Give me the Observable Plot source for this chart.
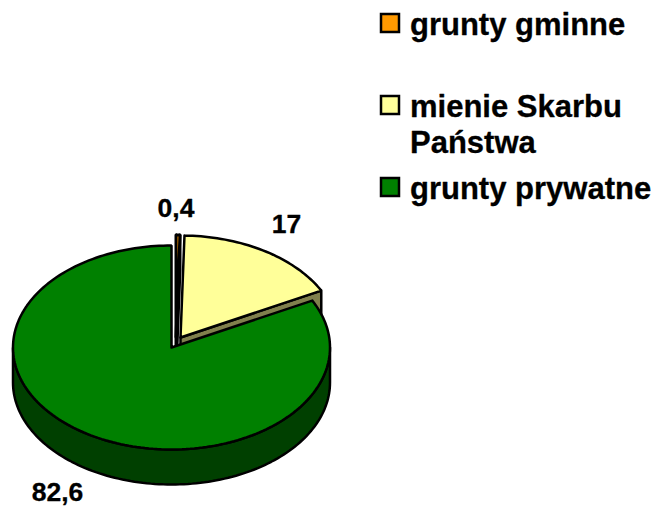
<!DOCTYPE html>
<html><head><meta charset="utf-8">
<script src="https://cdn.jsdelivr.net/npm/d3@7"></script>
<script src="https://cdn.jsdelivr.net/npm/@observablehq/plot@0.6"></script>
<style>html,body{margin:0;padding:0;background:#fff}svg{display:block}</style>
</head><body><div id="chart"></div>
<script>
const categories = ["grunty gminne", "mienie Skarbu Państwa", "grunty prywatne"];
const values = [0.4, 17, 82.6];
const valueLabels = ["0,4", "17", "82,6"];
const topColors = ["#FF9900", "#FFFF99", "#008000"];
const wallColors = ["#804C00", "#80804D", "#004000"];

const W = 656, H = 506;
const cx = 171, cy = 347, rx = 158.5, ry = 102, depth = 35;
const offsets = [[4.5, -10.5], [9, -10], [0, 0]];
const total = d3.sum(values);
const TAU = 2 * Math.PI;
let acc = 0;
const slices = values.map((v, i) => {
  const a0 = acc / total * TAU; acc += v; const a1 = acc / total * TAU;
  return {i, a0, a1, ox: cx + offsets[i][0], oy: cy + offsets[i][1]};
});
const rim = (s, a, d = 0) => ({x: s.ox + rx * Math.sin(a), y: s.oy - ry * Math.cos(a) + d});
const arc = (s, a0, a1, d = 0) => {
  const n = Math.max(2, Math.ceil(Math.abs(a1 - a0) / TAU * 240));
  return d3.range(n + 1).map(k => rim(s, a0 + (a1 - a0) * k / n, d));
};
const poly = (pts, fill, strokeWidth = 2.5) => Plot.line([...pts, pts[0], pts[1]], {
  x: "x", y: "y", fill, stroke: "#000", strokeWidth, strokeLinejoin: "miter", curve: "linear"
});
const topFace = s => [{x: s.ox, y: s.oy}, ...arc(s, s.a0, s.a1)];
const cutWall = s => {
  const e = rim(s, s.a1), e2 = rim(s, s.a1, depth);
  return [{x: s.ox, y: s.oy}, e, e2, {x: s.ox, y: s.oy + depth}];
};
const outerWall = (s, a0, a1) => [...arc(s, a0, a1), ...arc(s, a1, a0, depth)];

const [sOrange, sYellow, sGreen] = slices;
const legendX = 381, legendSize = 18, legendTextX = 410;
const legendRows = [
  {y: 14, lines: ["grunty gminne"]},
  {y: 96, lines: ["mienie Skarbu", "Państwa"]},
  {y: 178, lines: ["grunty prywatne"]}
];
const font = {fontFamily: "'Liberation Sans', Arial, sans-serif", fontWeight: "bold", fill: "#000", stroke: "#000", strokeWidth: 0.3};
const labelPos = [[175.5, 208], [286, 224], [57, 492.5]];

const plot = Plot.plot({
  width: W, height: H, margin: 0,
  x: {domain: [0, W], range: [0, W], axis: null},
  y: {domain: [0, H], range: [0, H], axis: null},
  marks: [
    poly(cutWall(sOrange), wallColors[0], 3),
    poly(topFace(sOrange), topColors[0], 3),
    poly(cutWall(sYellow), wallColors[1]),
    poly(topFace(sYellow), topColors[1]),
    poly(outerWall(sGreen, Math.PI / 2, 3 * Math.PI / 2), wallColors[2]),
    poly(topFace(sGreen), topColors[2]),
    Plot.rect(legendRows, {
      x1: legendX, x2: legendX + legendSize, y1: "y", y2: d => d.y + legendSize,
      fill: (d, i) => topColors[i], stroke: "#000", strokeWidth: 2.5
    }),
    Plot.text(legendRows, {
      x: legendTextX - 0.5, y: d => d.y + legendSize / 2 + 0.5 + (d.lines.length - 1) * 17.5, text: d => d.lines.join("\n"),
      textAnchor: "start", lineAnchor: "middle", lineHeight: 1.15, fontSize: 31, ...font
    }),
    Plot.text(valueLabels, {
      x: (d, i) => labelPos[i][0], y: (d, i) => labelPos[i][1], text: d => d,
      textAnchor: "middle", lineAnchor: "middle", fontSize: 26.5, ...font
    })
  ]
});
document.getElementById("chart").append(plot);
</script></body></html>
